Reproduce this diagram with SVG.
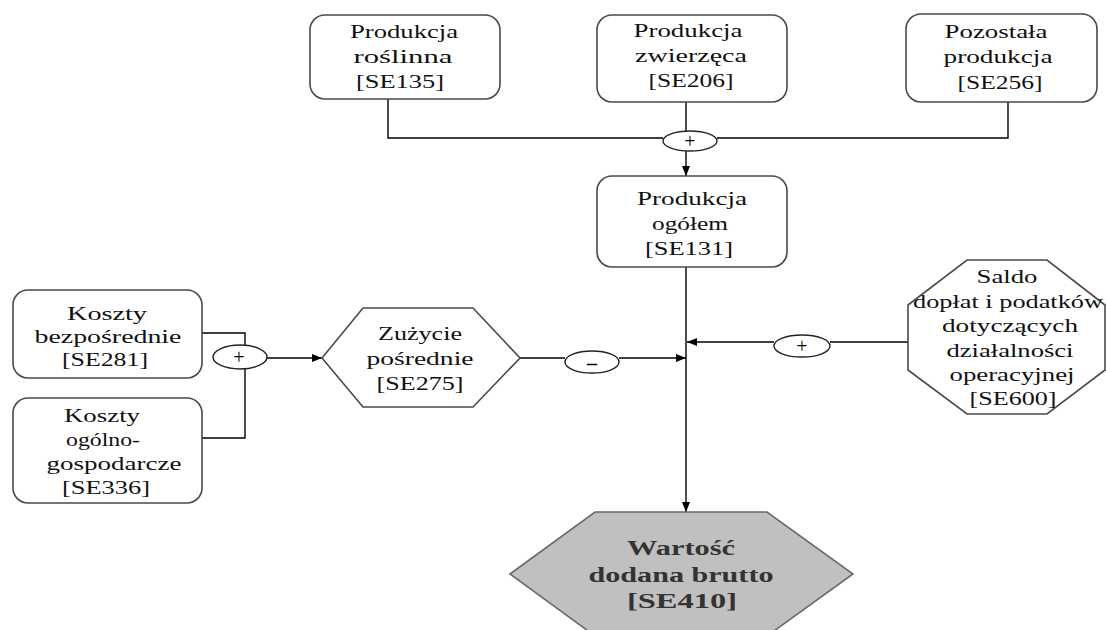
<svg xmlns="http://www.w3.org/2000/svg" width="1106" height="630" viewBox="0 0 1106 630">
<style>
.box{fill:#fff;stroke:#4a4a4a;stroke-width:1.6}
.gray{fill:#c0c0c0;stroke:#6a6a6a;stroke-width:1.6}
.t{font-family:"Liberation Serif","Times New Roman",serif;font-size:18px;text-anchor:middle;fill:#111}
.b{font-weight:bold;font-size:20px;fill:#333}
.ln{fill:none;stroke:#000;stroke-width:1.4}
.op{fill:#fff;stroke:#222;stroke-width:1.4}
.o{font-family:"Liberation Serif","Times New Roman",serif;font-size:20px;text-anchor:middle;fill:#000}
</style>
<defs>
<marker id="ar" markerUnits="userSpaceOnUse" viewBox="0 0 10 8" markerWidth="10" markerHeight="8" refX="10" refY="4" orient="auto">
<path d="M0,0 L10,4 L0,8 z" fill="#000"/>
</marker>
</defs>
<rect width="1106" height="630" fill="#fff"/>
<g id="connectors">
<path class="ln" d="M388,99 V138 H663"/>
<path class="ln" d="M1008,102 V138 H717"/>
<path class="ln" d="M686,102 V131"/>
<path class="ln" d="M686,151 V176" marker-end="url(#ar)"/>
<path class="ln" d="M686,267 V512" marker-end="url(#ar)"/>
<path class="ln" d="M202,333 H245 V345"/>
<path class="ln" d="M202,438 H245 V369"/>
<path class="ln" d="M267,358 H322" marker-end="url(#ar)"/>
<path class="ln" d="M520,358 H565"/>
<path class="ln" d="M619,358 H686" marker-end="url(#ar)"/>
<path class="ln" d="M908,342 H830"/>
<path class="ln" d="M774,342 H687" marker-end="url(#ar)"/>
</g>
<g id="op-top"><ellipse class="op" cx="690" cy="141" rx="27" ry="10"/><text class="o" x="690" y="148">+</text></g>
<g id="op-koszty"><ellipse class="op" cx="240" cy="357" rx="27" ry="12"/><text class="o" x="239" y="364">+</text></g>
<g id="op-minus"><ellipse class="op" cx="592" cy="362" rx="27" ry="11"/><text class="o" x="592" y="370" font-weight="bold">–</text></g>
<g id="op-saldo"><ellipse class="op" cx="802" cy="346" rx="28" ry="11"/><text class="o" x="802" y="353">+</text></g>
<g id="n-roslinna">
<rect class="box" x="310" y="15" width="190" height="84" rx="15"/>
<text class="t" x="404" y="38" textLength="108" lengthAdjust="spacingAndGlyphs">Produkcja</text>
<text class="t" x="403" y="63" textLength="99" lengthAdjust="spacingAndGlyphs">roślinna</text>
<text class="t" x="400" y="88" textLength="88" lengthAdjust="spacingAndGlyphs">[SE135]</text>
</g>
<g id="n-zwierzeca">
<rect class="box" x="597" y="15" width="190" height="87" rx="15"/>
<text class="t" x="688" y="37" textLength="109" lengthAdjust="spacingAndGlyphs">Produkcja</text>
<text class="t" x="691" y="62" textLength="112" lengthAdjust="spacingAndGlyphs">zwierzęca</text>
<text class="t" x="691" y="87" textLength="85" lengthAdjust="spacingAndGlyphs">[SE206]</text>
</g>
<g id="n-pozostala">
<rect class="box" x="906" y="14" width="191" height="88" rx="15"/>
<text class="t" x="996" y="38" textLength="103" lengthAdjust="spacingAndGlyphs">Pozostała</text>
<text class="t" x="998" y="63" textLength="109" lengthAdjust="spacingAndGlyphs">produkcja</text>
<text class="t" x="1000" y="89" textLength="85" lengthAdjust="spacingAndGlyphs">[SE256]</text>
</g>
<g id="n-ogolem">
<rect class="box" x="597" y="176" width="190" height="91" rx="15"/>
<text class="t" x="692" y="205" textLength="110" lengthAdjust="spacingAndGlyphs">Produkcja</text>
<text class="t" x="690" y="230" textLength="76" lengthAdjust="spacingAndGlyphs">ogółem</text>
<text class="t" x="689" y="255" textLength="88" lengthAdjust="spacingAndGlyphs">[SE131]</text>
</g>
<g id="n-koszty-bezp">
<rect class="box" x="13" y="290" width="189" height="88" rx="15"/>
<text class="t" x="107" y="320" textLength="80" lengthAdjust="spacingAndGlyphs">Koszty</text>
<text class="t" x="108" y="343" textLength="147" lengthAdjust="spacingAndGlyphs">bezpośrednie</text>
<text class="t" x="105" y="366" textLength="86" lengthAdjust="spacingAndGlyphs">[SE281]</text>
</g>
<g id="n-koszty-ogol">
<rect class="box" x="13" y="398" width="189" height="105" rx="15"/>
<text class="t" x="102" y="422" textLength="76" lengthAdjust="spacingAndGlyphs">Koszty</text>
<text class="t" x="103" y="446" textLength="74" lengthAdjust="spacingAndGlyphs">ogólno-</text>
<text class="t" x="114" y="470" textLength="135" lengthAdjust="spacingAndGlyphs">gospodarcze</text>
<text class="t" x="106" y="494" textLength="88" lengthAdjust="spacingAndGlyphs">[SE336]</text>
</g>
<g id="n-zuzycie">
<polygon class="box" points="322,358 363,308 473,308 520,358 473,407 363,407"/>
<text class="t" x="420" y="340" textLength="84" lengthAdjust="spacingAndGlyphs">Zużycie</text>
<text class="t" x="420" y="365" textLength="107" lengthAdjust="spacingAndGlyphs">pośrednie</text>
<text class="t" x="420" y="390" textLength="87" lengthAdjust="spacingAndGlyphs">[SE275]</text>
</g>
<g id="n-saldo">
<polygon class="box" points="967,260 1047,260 1105,305 1105,370 1047,414 967,414 908,370 908,305"/>
<text class="t" x="1007" y="283" textLength="61" lengthAdjust="spacingAndGlyphs">Saldo</text>
<text class="t" x="1008" y="308" textLength="190" lengthAdjust="spacingAndGlyphs">dopłat i podatków</text>
<text class="t" x="1010" y="332" textLength="136" lengthAdjust="spacingAndGlyphs">dotyczących</text>
<text class="t" x="1010" y="357" textLength="127" lengthAdjust="spacingAndGlyphs">działalności</text>
<text class="t" x="1012" y="381" textLength="125" lengthAdjust="spacingAndGlyphs">operacyjnej</text>
<text class="t" x="1013" y="405" textLength="87" lengthAdjust="spacingAndGlyphs">[SE600]</text>
</g>
<g id="n-wartosc">
<polygon class="gray" points="510,574 595,512 767,512 853,574 767,636 595,636"/>
<text class="t b" x="681" y="555" textLength="108" lengthAdjust="spacingAndGlyphs">Wartość</text>
<text class="t b" x="681" y="582" textLength="185" lengthAdjust="spacingAndGlyphs">dodana brutto</text>
<text class="t b" x="682" y="608" textLength="110" lengthAdjust="spacingAndGlyphs">[SE410]</text>
</g>
</svg>
